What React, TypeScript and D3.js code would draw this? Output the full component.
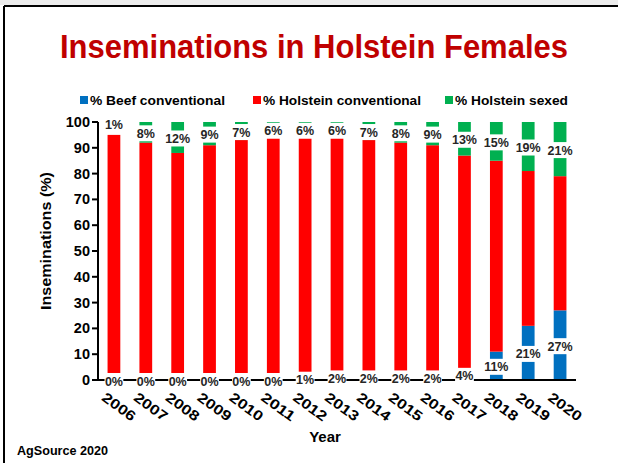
import React from 'react'
import * as d3 from 'd3'

const years = ['2006', '2007', '2008', '2009', '2010', '2011', '2012', '2013', '2014', '2015', '2016', '2017', '2018', '2019', '2020']
const beefConventional = [0, 0, 0, 0, 0, 0, 1, 2, 2, 2, 2, 4, 11, 21, 27]
const holsteinConventional = [95, 92, 88, 91, 93, 94, 93, 92, 91, 90, 89, 83, 74, 60, 52]
const unassigned = [4, 0, 0, 0, 0, 0, 0, 0, 0, 0, 0, 0, 0, 0, 0]
const holsteinSexed = [1, 8, 12, 9, 7, 6, 6, 6, 7, 8, 9, 13, 15, 19, 21]
const yTicks = [0, 10, 20, 30, 40, 50, 60, 70, 80, 90, 100]

const seriesNames = ['% Beef conventional', '% Holstein conventional', '% Holstein sexed']
const seriesColors = ['#0070c0', '#ff0000', '#00b050']

const W = 618
const H = 463
const left = 98
const right = 576
const top = 122
const bottom = 380
const font = 'Liberation Sans, Arial, sans-serif'

const rows = years.map((year, i) => ({
  year,
  beef: beefConventional[i],
  holstein: holsteinConventional[i],
  other: unassigned[i],
  sexed: holsteinSexed[i],
}))

const App = () => {
  const x = d3.scaleBand<string>().domain(years).range([left, right]).paddingInner(0.6).paddingOuter(0.3)
  const y = d3.scaleLinear().domain([0, 100]).range([bottom, top])

  const stack = d3.stack<any>().keys(['beef', 'holstein', 'other', 'sexed'])
  const layers = stack(rows)
  const fills: Record<string, string> = {
    beef: seriesColors[0],
    holstein: seriesColors[1],
    other: 'none',
    sexed: seriesColors[2],
  }

  const beefLayer = layers[0]
  const sexedLayer = layers[3]

  // data label with a white box behind it, as in the slide
  const label = (key: string, cx: number, v0: number, v1: number, value: number) => {
    const text = `${value}%`
    const w = text.length * 7.4 + 4
    const cy = (y(v0) + y(v1)) / 2 + 1
    return (
      <g key={key}>
        <rect x={cx - w / 2} y={cy - 8} width={w} height={16} fill="#fff" />
        <text x={cx} y={cy + 4.5} textAnchor="middle" fontFamily={font} fontWeight="bold" fontSize={12.5} fill="#262626">{text}</text>
      </g>
    )
  }

  const legendItems = [
    { sx: 80, tx: 90, len: 135 },
    { sx: 253, tx: 263, len: 158 },
    { sx: 445, tx: 455, len: 113 },
  ]

  return (
    <svg width={W} height={H} style={{ position: 'absolute', left: 0, top: 0, background: '#fff' }}>
      <rect x={0} y={0} width={W} height={5} fill="#ececec" />
      <line x1={4} y1={6} x2={W} y2={6} stroke="#000" strokeWidth={2} />
      <line x1={4} y1={6} x2={4} y2={H} stroke="#000" strokeWidth={2} />

      <text x={314} y={58} textAnchor="middle" fontFamily={font} fontWeight="bold" fontSize={34} fill="#c00000" textLength={508} lengthAdjust="spacingAndGlyphs">
        Inseminations in Holstein Females
      </text>

      {seriesNames.map((name, i) => (
        <g key={name}>
          <rect x={legendItems[i].sx} y={96} width={8} height={8} fill={seriesColors[i]} />
          <text x={legendItems[i].tx} y={105} fontFamily={font} fontWeight="bold" fontSize={13} fill="#000" textLength={legendItems[i].len} lengthAdjust="spacingAndGlyphs">{name}</text>
        </g>
      ))}

      {layers.map(layer => (
        <g key={layer.key} fill={fills[layer.key]}>
          {layer.map((d: any) => (
            <rect key={d.data.year} x={x(d.data.year)} y={y(d[1])} width={x.bandwidth()} height={y(d[0]) - y(d[1])} />
          ))}
        </g>
      ))}

      {/* axes */}
      <line x1={left} y1={top} x2={left} y2={bottom + 1} stroke="#000" strokeWidth={2} />
      <line x1={left - 1} y1={bottom} x2={right} y2={bottom} stroke="#000" strokeWidth={2} />
      {yTicks.map(t => (
        <g key={t}>
          <line x1={left - 6} x2={left} y1={y(t)} y2={y(t)} stroke="#000" strokeWidth={2} />
          <text x={left - 8} y={y(t) + 5} textAnchor="end" fontFamily={font} fontWeight="bold" fontSize={14.5} fill="#000">{t}</text>
        </g>
      ))}

      {beefLayer.map((d: any, i: number) => label(`b${i}`, x(d.data.year)! + x.bandwidth() / 2, d[0], d[1], beefConventional[i]))}
      {sexedLayer.map((d: any, i: number) => label(`s${i}`, x(d.data.year)! + x.bandwidth() / 2, d[0], d[1], holsteinSexed[i]))}

      {years.map(yr => (
        <text key={yr} transform={`translate(${x(yr)! + x.bandwidth() / 2 - 7},${bottom + 11}) rotate(36)`} dy="0.75em" fontFamily={font} fontWeight="bold" fontSize={14} fill="#000" textLength={38} lengthAdjust="spacingAndGlyphs">{yr}</text>
      ))}

      <text transform={`translate(51,${(top + bottom) / 2 - 10}) rotate(-90)`} textAnchor="middle" fontFamily={font} fontWeight="bold" fontSize={15} fill="#000" textLength={138} lengthAdjust="spacingAndGlyphs">Inseminations (%)</text>
      <text x={325} y={442} textAnchor="middle" fontFamily={font} fontWeight="bold" fontSize={15} fill="#000">Year</text>
      <text x={17} y={455} fontFamily={font} fontWeight="bold" fontSize={12} fill="#000" textLength={91} lengthAdjust="spacingAndGlyphs">AgSource 2020</text>
    </svg>
  )
}

export default App
